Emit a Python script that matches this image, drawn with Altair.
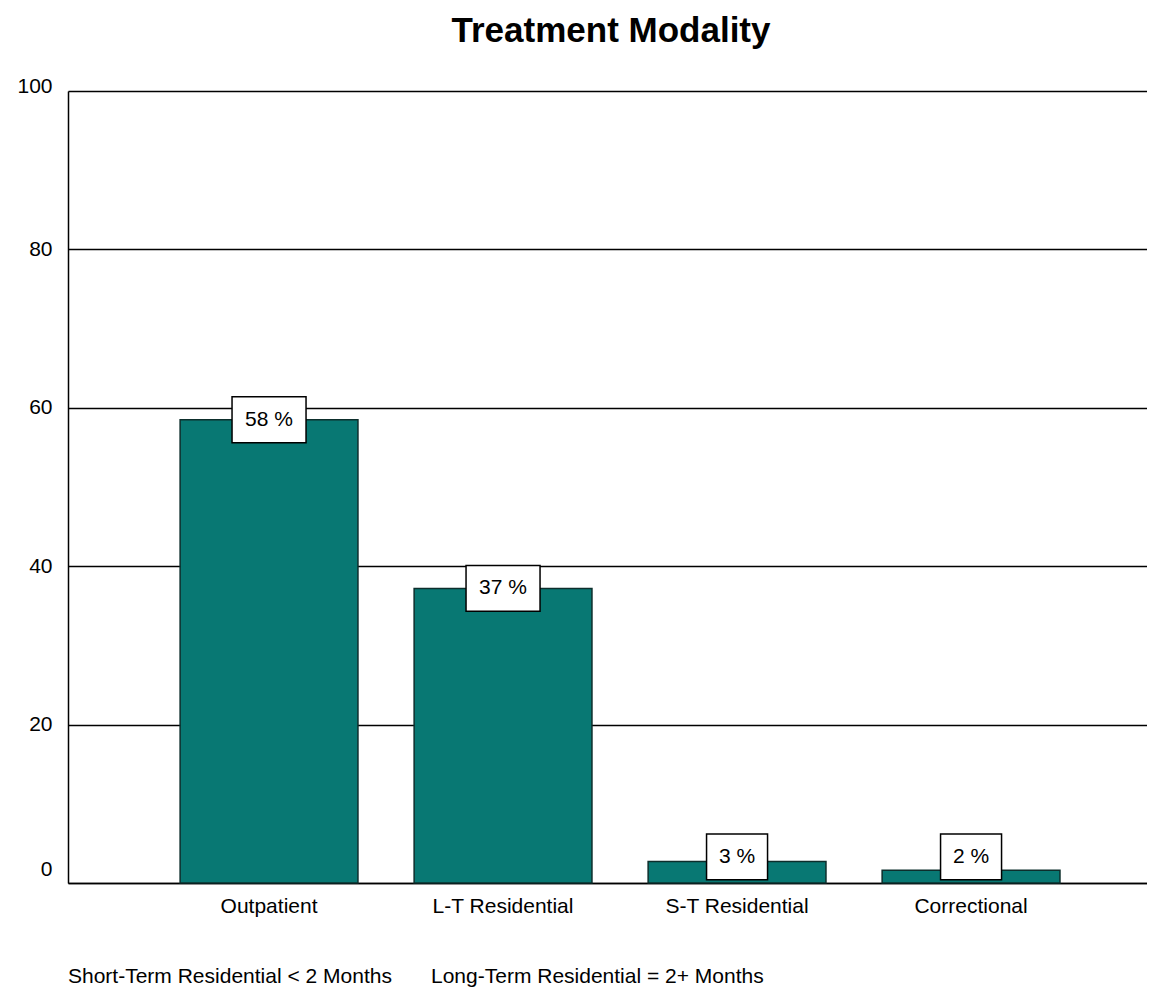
import altair as alt
import pandas as pd

categories = ["Outpatient", "L-T Residential", "S-T Residential", "Correctional"]
values = [58.5, 37.2, 2.7, 1.6]
labels = ["58 %", "37 %", "3 %", "2 %"]
y_ticks = [0, 20, 40, 60, 80, 100]
title_text = "Treatment Modality"
note_short = "Short-Term Residential < 2 Months"
note_long = "Long-Term Residential = 2+ Months"

df = pd.DataFrame({"category": categories, "value": values, "label": labels})

FONT = "Liberation Sans"
W, H = 1079, 792

x_scale = alt.Scale(domain=categories, paddingInner=0.24, paddingOuter=0.4255, align=0.563)
x_axis = alt.Axis(title=None, labelAngle=0, ticks=False, domainColor="black", domainWidth=1.5,
                  labelFont=FONT, labelFontSize=21, labelColor="black", labelPadding=12)
x_enc = alt.X("category:N", scale=x_scale, sort=categories, axis=x_axis)

y_scale = alt.Scale(domain=[0, 100], nice=False)
y_axis = alt.Axis(title=None, values=y_ticks, grid=True, gridColor="black", gridWidth=1.5,
                  gridOpacity=1, ticks=False, domainColor="black", domainWidth=1.5,
                  labelFont=FONT, labelFontSize=21, labelColor="black", labelPadding=16,
                  labelOffset={"condition": [{"test": "datum.value == 0", "value": -14},
                                             {"test": "datum.value == 100", "value": -5}],
                               "value": 0})

bars = alt.Chart(df).mark_bar(color="#087873", stroke="#0d2e2c", strokeWidth=1.5).encode(
    x=x_enc,
    y=alt.Y("value:Q", scale=y_scale, axis=y_axis),
)

boxes = alt.Chart(df).transform_calculate(
    c="max(datum.value, 3.3)",
    lo="datum.c - 2.9",
    hi="datum.c + 2.9",
    bw="length(datum.label) > 3 ? 74 : 61",
).mark_bar(color="white", stroke="black", strokeWidth=1.5).encode(
    x=x_enc,
    y=alt.Y("lo:Q", scale=y_scale, axis=y_axis),
    y2="hi:Q",
    size=alt.Size("bw:Q", scale=None, legend=None),
)

texts = alt.Chart(df).transform_calculate(
    c="max(datum.value, 3.3)"
).mark_text(font=FONT, fontSize=21, color="black", baseline="middle", align="center").encode(
    x=x_enc,
    y=alt.Y("c:Q", scale=y_scale, axis=y_axis),
    text="label:N",
)

title = alt.Chart(pd.DataFrame({"t": [title_text]})).mark_text(
    font=FONT, fontSize=35, fontWeight="bold", align="center", baseline="alphabetic", color="black"
).encode(x=alt.value(543), y=alt.value(-49), text="t:N")

note1 = alt.Chart(pd.DataFrame({"t": [note_short]})).mark_text(
    font=FONT, fontSize=21, align="left", baseline="alphabetic", color="black"
).encode(x=alt.value(0), y=alt.value(892), text="t:N")

note2 = alt.Chart(pd.DataFrame({"t": [note_long]})).mark_text(
    font=FONT, fontSize=21, align="left", baseline="alphabetic", color="black"
).encode(x=alt.value(363), y=alt.value(892), text="t:N")

chart = alt.layer(bars, boxes, texts, title, note1, note2).properties(
    width=W,
    height=H,
    autosize=alt.AutoSizeParams(type="none"),
    padding={"left": 60, "top": 83, "right": 0, "bottom": 107},
    background="white",
).configure_view(stroke=None)

chart.save("out.html", embed_options={"renderer": "svg", "actions": False})
